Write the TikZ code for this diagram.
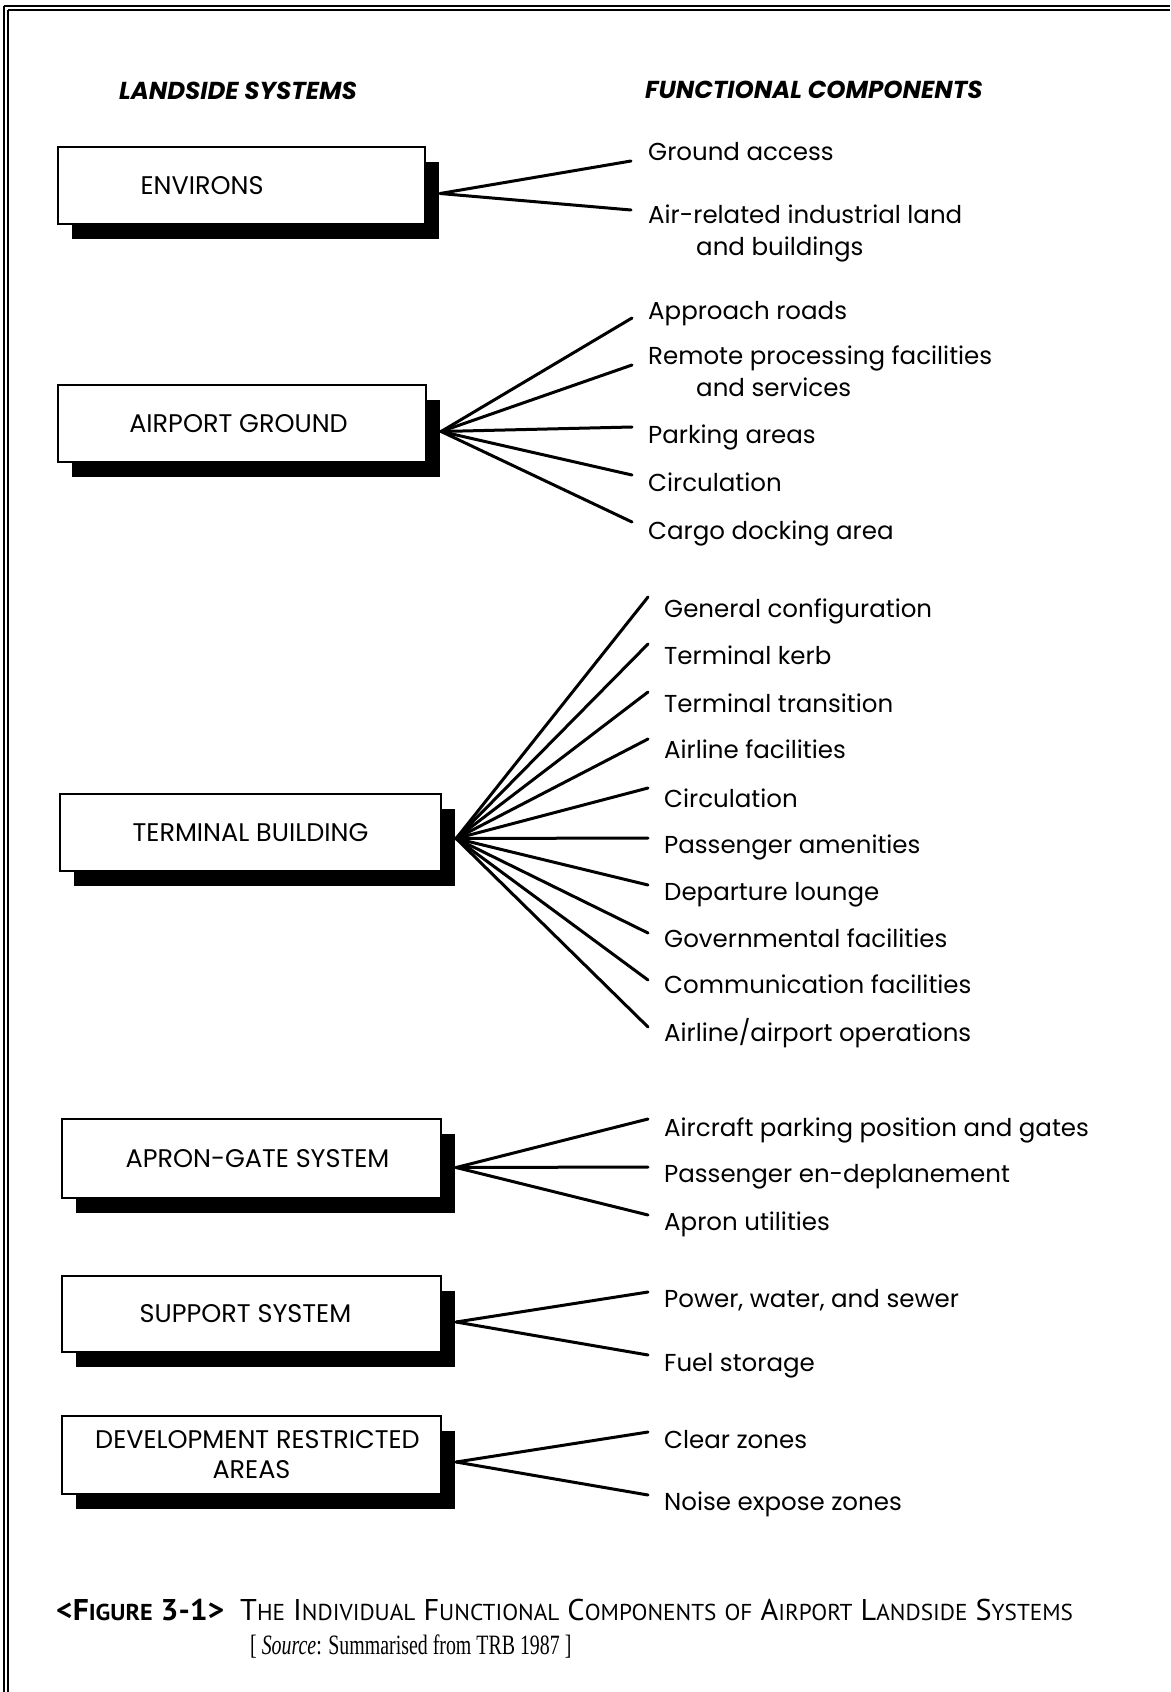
\documentclass[tikz,border=0pt]{standalone}
\usepackage{fontspec}
\usepackage{graphicx}
\setmainfont{Poppins}
\newfontfamily\capfont{PT Sans}
\newfontfamily\srcfont{Liberation Serif}
\usetikzlibrary{shadows,calc}
\newcommand\fsc[2]{#1{\fontsize{23}{26}\selectfont #2}}
\tikzset{
  sysbox/.style={draw, line width=2.2pt, fill=white, inner sep=0pt,
    font=\fontsize{25.5}{30}\selectfont, align=center,
    drop shadow={shadow xshift=14pt, shadow yshift=-15pt, fill=black, opacity=1}},
  comp/.style={anchor=base west, inner sep=0pt, align=left,
    font=\fontsize{24.5}{32}\selectfont},
  hdr/.style={anchor=base west, inner sep=0pt,
    font=\fontsize{24.5}{28}\selectfont\bfseries\itshape},
  fan/.style={line width=3pt, line cap=round},
  frame/.style={line width=1.5pt}
}
\begin{document}
\begin{tikzpicture}[x=1pt,y=-1pt]
\useasboundingbox (0,0) rectangle (1170,1692);
% frame
\draw[frame] (4,6) -- (1170,6);
\draw[frame] (8,10) -- (1170,10);
\draw[frame] (4,6) -- (4,1692);
\draw[frame] (8,10) -- (8,1692);
% headers
\node[hdr] (h1) at (119,99) {LANDSIDE SYSTEMS};
\node[hdr] (h2) at (645,98) {FUNCTIONAL COMPONENTS};
% boxes
\node[sysbox, minimum width=367pt, minimum height=77pt] (env) at (241.5,185.5) {ENVIRONS\hspace{79pt}};
\node[sysbox, minimum width=368pt, minimum height=77pt] (ag) at (242,423.5) {AIRPORT GROUND\hspace{7pt}};
\node[sysbox, minimum width=381pt, minimum height=77pt] (tb) at (250.5,832.5) {TERMINAL BUILDING};
\node[sysbox, minimum width=379pt, minimum height=79pt] (ags) at (251.5,1158.5) {\hspace{12pt}APRON-GATE SYSTEM};
\node[sysbox, minimum width=379pt, minimum height=76pt] (ss) at (251.5,1314) {SUPPORT SYSTEM\hspace{12pt}};
\node[sysbox, minimum width=379pt, minimum height=78pt] (dra) at (251.5,1455) {\hspace*{12pt}DEVELOPMENT RESTRICTED\\AREAS};
% fan origins
\coordinate (oenv) at ($(env.east)+(14,8)$);
\coordinate (oag) at ($(ag.east)+(14,8)$);
\coordinate (otb) at ($(tb.east)+(14,6)$);
\coordinate (oags) at ($(ags.east)+(14,9)$);
\coordinate (oss) at ($(ss.east)+(14,8)$);
\coordinate (odra) at ($(dra.east)+(14,7)$);
% ENVIRONS
\node[comp] (c11) at (648,160) {Ground access};
\node[comp] (c12) at (648,255) {Air-related industrial land\\\hspace*{48pt}and buildings};
\coordinate (e11) at (631,161);
\coordinate (e12) at (631,210);
\draw[fan] (oenv) -- (e11);
\draw[fan] (oenv) -- (e12);
% AIRPORT GROUND
\node[comp] (c21) at (648,319) {Approach roads};
\node[comp] (c22) at (648,396) {Remote processing facilities\\\hspace*{48pt}and services};
\node[comp] (c23) at (648,443) {Parking areas};
\node[comp] (c24) at (648,491) {Circulation};
\node[comp] (c25) at (648,539) {Cargo docking area};
\foreach \i/\y in {1/318,2/365,3/427,4/475,5/522}{
  \coordinate (e2\i) at (632,\y);
  \draw[fan] (oag) -- (e2\i);
}
% TERMINAL BUILDING
\node[comp] (c31) at (664,617) {General configuration};
\node[comp] (c32) at (664,664) {Terminal kerb};
\node[comp] (c33) at (664,712) {Terminal transition};
\node[comp] (c34) at (664,758) {Airline facilities};
\node[comp] (c35) at (664,807) {Circulation};
\node[comp] (c36) at (664,853) {Passenger amenities};
\node[comp] (c37) at (664,900) {Departure lounge};
\node[comp] (c38) at (664,947) {Governmental facilities};
\node[comp] (c39) at (664,993) {Communication facilities};
\node[comp] (c310) at (664,1041) {Airline/airport operations};
\foreach \i/\y in {1/597,2/644,3/692,4/739,5/788,6/838,7/885,8/933,9/980,10/1027}{
  \coordinate (e3\i) at (648,\y);
  \draw[fan] (otb) -- (e3\i);
}
% APRON-GATE
\node[comp] (c41) at (664,1136) {Aircraft parking position and gates};
\node[comp] (c42) at (664,1182) {Passenger en-deplanement};
\node[comp] (c43) at (664,1230) {Apron utilities};
\foreach \i/\y in {1/1119,2/1167,3/1215}{
  \coordinate (e4\i) at (648,\y);
  \draw[fan] (oags) -- (e4\i);
}
% SUPPORT
\node[comp] (c51) at (664,1307) {Power, water, and sewer};
\node[comp] (c52) at (664,1371) {Fuel storage};
\coordinate (e51) at (648,1292);
\coordinate (e52) at (648,1355);
\draw[fan] (oss) -- (e51);
\draw[fan] (oss) -- (e52);
% DEVELOPMENT RESTRICTED
\node[comp] (c61) at (664,1448) {Clear zones};
\node[comp] (c62) at (664,1510) {Noise expose zones};
\coordinate (e61) at (648,1432);
\coordinate (e62) at (648,1495);
\draw[fan] (odra) -- (e61);
\draw[fan] (odra) -- (e62);
% caption
\node[anchor=base west, inner sep=0pt, font=\fontsize{30}{34}\selectfont\capfont\bfseries] (fig) at (56,1620)
  {\scalebox{1.05}[1]{<\fsc{F}{IGURE} 3-1>}};
\node[anchor=base west, inner sep=0pt, font=\fontsize{30}{34}\selectfont\capfont] (ttl) at (240,1620)
  {\scalebox{1.01}[1]{\fsc{T}{HE} \fsc{I}{NDIVIDUAL} \fsc{F}{UNCTIONAL} \fsc{C}{OMPONENTS} \fsc{}{OF} \fsc{A}{IRPORT} \fsc{L}{ANDSIDE} \fsc{S}{YSTEMS}}};
\node[anchor=base west, inner sep=0pt, font=\fontsize{28}{32}\selectfont\srcfont] (src) at (250,1654)
  {\scalebox{0.71}[1]{[ \textit{Source}: Summarised from TRB 1987 ]}};
\end{tikzpicture}
\end{document}
